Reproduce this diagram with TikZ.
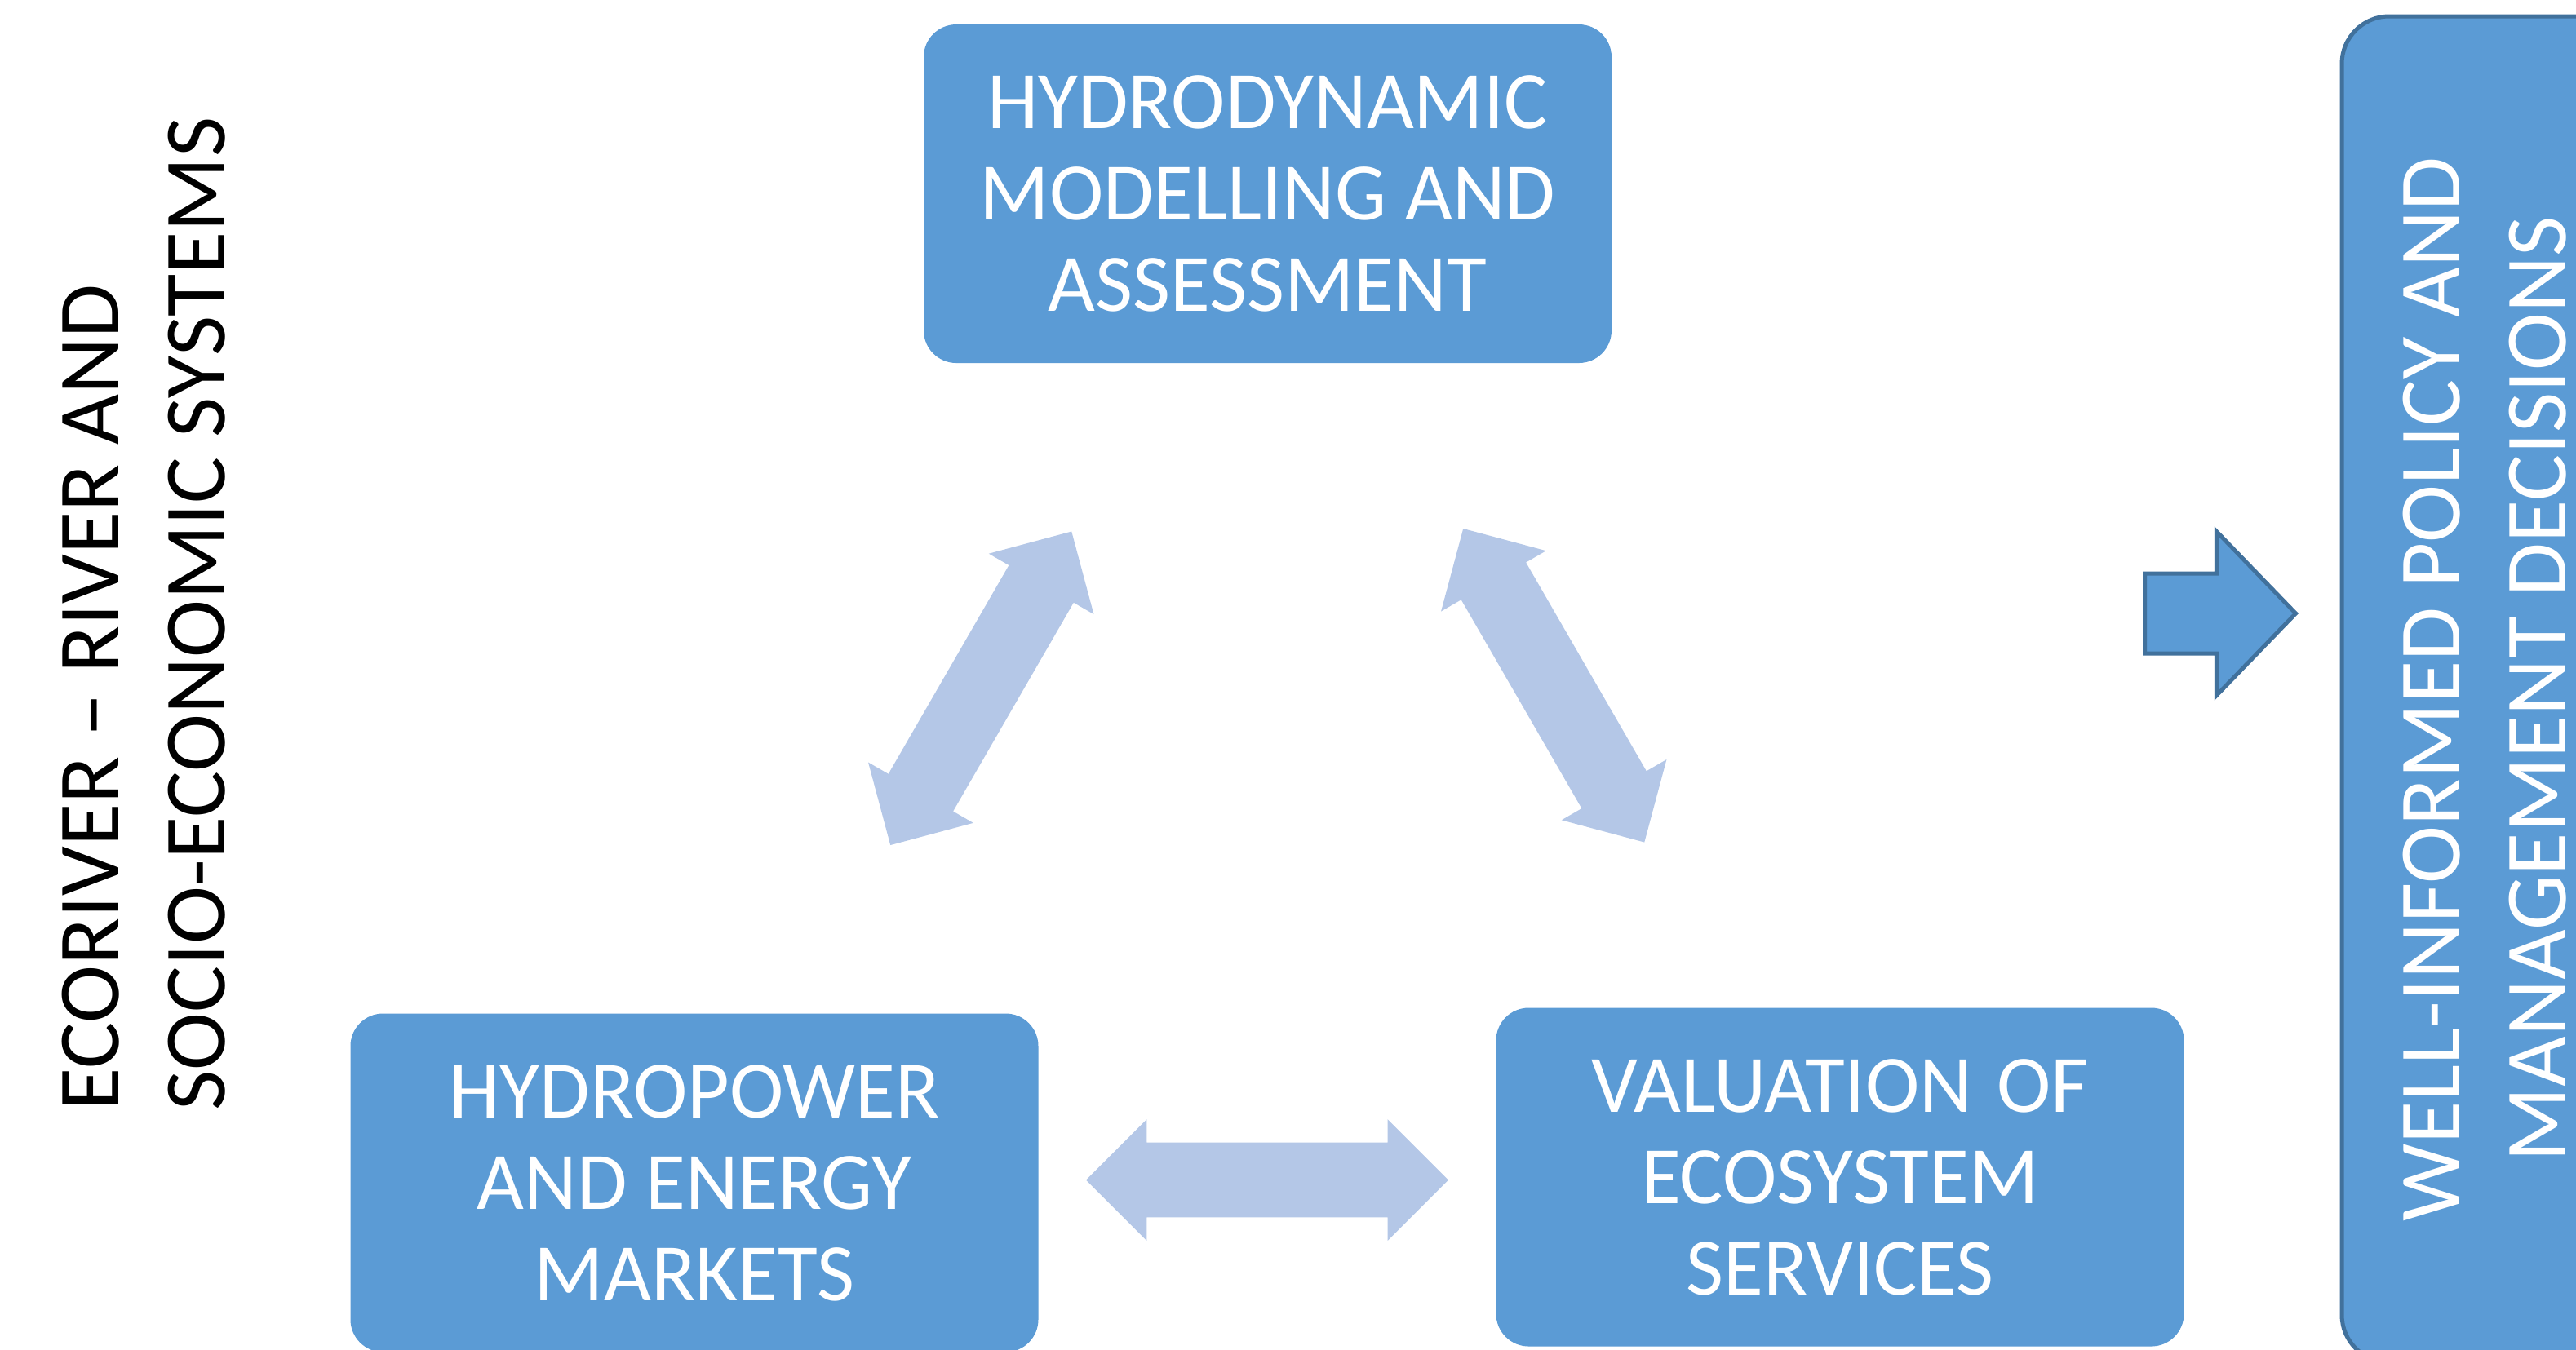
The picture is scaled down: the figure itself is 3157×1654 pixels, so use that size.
\documentclass[tikz,border=0pt]{standalone}
\usepackage{fontspec}
\setmainfont{Carlito}
\usetikzlibrary{shapes.arrows,calc}
\definecolor{boxblue}{HTML}{5B9BD5}
\definecolor{edgeblue}{HTML}{41719C}
\definecolor{lightarrow}{HTML}{B4C7E7}
\begin{document}
\begin{tikzpicture}[x=0.25pt,y=-0.25pt,
  box/.style={rectangle, rounded corners=10pt, fill=boxblue, text=white, align=center,
    minimum width=210.75pt, minimum height=103.75pt, inner sep=0pt,
    font=\fontsize{25}{28}\selectfont},
  dblarrow/.style={double arrow, fill=lightarrow, draw=none, inner sep=11.25pt,
    minimum height=111pt,
    double arrow head extend=7.125pt, double arrow tip angle=90},
  outarrow/.style={single arrow, fill=boxblue, draw=edgeblue, line width=1.25pt,
    inner sep=11.625pt, minimum height=46.25pt,
    single arrow head extend=12.875pt, single arrow tip angle=92},
  bigtext/.style={font=\fontsize{26.75}{32.5}\selectfont, inner sep=0pt}]
\useasboundingbox (0,0) rectangle (3157,1654);
\fill[white] (0,0) rectangle (3157,1654);
\clip (0,0) rectangle (3157,1654);

\node[box] (hydro) at (1553.5,237.5) {HYDRODYNAMIC\\MODELLING AND\\ASSESSMENT};
\node[box] (power) at (851,1450) {HYDROPOWER\\AND ENERGY\\MARKETS};
\node[box] (eco) at (2255,1443) {VALUATION\hspace{0.08em} OF\\ECOSYSTEM\\SERVICES};

\node[dblarrow, rotate=60] (a1) at ($(hydro)!0.5!(power)$) {};
\node[dblarrow, rotate=-60] (a2) at ($(hydro)!0.5!(eco)$) {};
\node[dblarrow] (a3) at ($(power)!0.5!(eco)$) {};

\node[outarrow, anchor=tail] (out) at (2626,752) {};

\node[rectangle, rounded corners=14.5pt, fill=boxblue, draw=edgeblue, line width=1.25pt,
  rotate=90, minimum width=412.5pt, minimum height=87.5pt, text=white, align=center,
  bigtext] (policy) at (3045,845) {WELL-INFORMED POLICY AND\\MANAGEMENT DECISIONS};

\node[bigtext, rotate=90, anchor=west, align=left] (title) at (176.5,1362)
  {ECORIVER – RIVER AND\\SOCIO-ECONOMIC SYSTEMS};
\end{tikzpicture}
\end{document}
